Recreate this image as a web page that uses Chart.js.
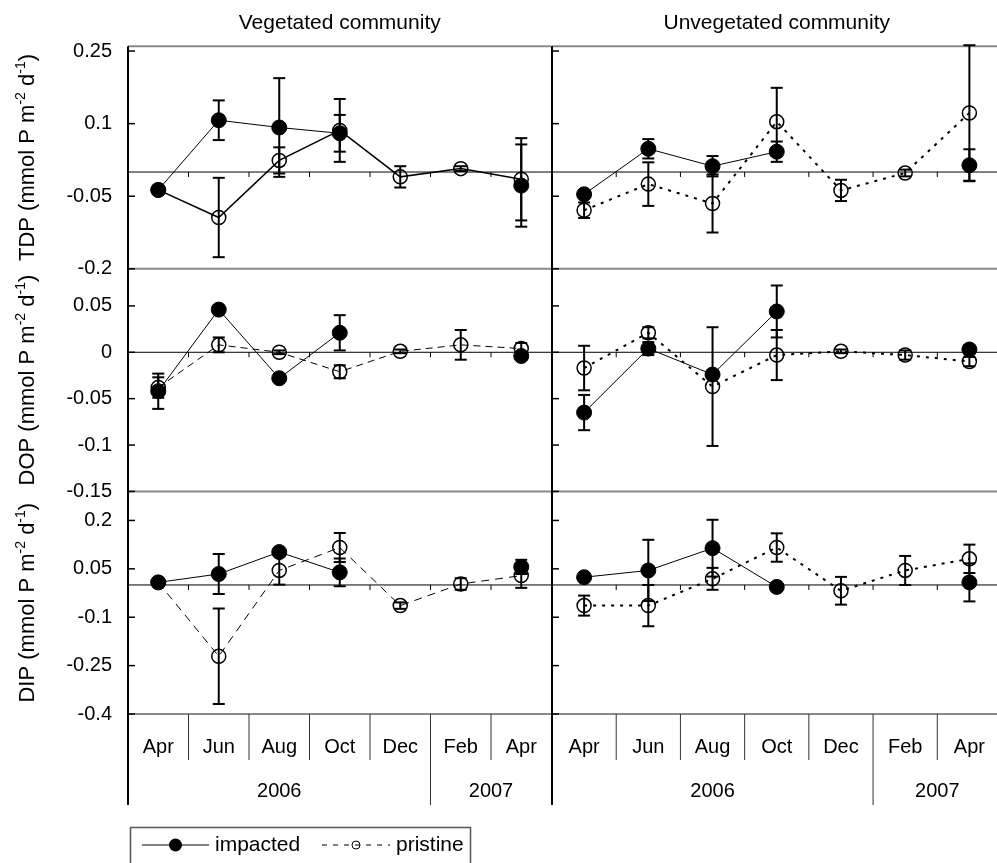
<!DOCTYPE html>
<html>
<head>
<meta charset="utf-8">
<title>TDP / DOP / DIP fluxes</title>
<script src="https://cdn.jsdelivr.net/npm/chart.js@4.4.1/dist/chart.umd.min.js"></script>
<style>
  html, body { margin:0; padding:0; background:#fff; overflow:hidden; width:997px; height:863px; }
  canvas { position:absolute; top:0; }
  #chVeg { left:0; }
  #chUnveg { left:540px; }
</style>
</head>
<body>
<canvas id="chVeg" width="560" height="863"></canvas>
<canvas id="chUnveg" width="470" height="863"></canvas>
<script>
// ---- categories
const months = ['Apr','Jun','Aug','Oct','Dec','Feb','Apr'];
const years = ['2006','2007'];
const yearSpans = [5, 2];
const seriesNames = ['impacted','pristine'];

// ---- axes (ranges + tick labels)
const tdpRange = [-0.2, 0.26];
const dopRange = [-0.15, 0.09];
const dipRange = [-0.4, 0.29];
const tdpTicks = [-0.2, -0.05, 0.1, 0.25];
const dopTicks = [-0.15, -0.1, -0.05, 0, 0.05];
const dipTicks = [-0.4, -0.25, -0.1, 0.05, 0.2];

// ---- vegetated community
const tdpVegImp    = [-0.037, 0.107, 0.092, 0.080, null, null, -0.028];
const tdpVegImpErr = [0.003, 0.041, 0.102, 0.038, 0, 0, 0.085];
const tdpVegPri    = [-0.037, -0.094, 0.024, 0.086, -0.010, 0.007, -0.015];
const tdpVegPriErr = [0.003, 0.082, 0.027, 0.065, 0.022, 0.005, 0.085];

const dopVegImp    = [-0.042, 0.046, -0.028, 0.021, null, null, -0.004];
const dopVegImpErr = [0.019, 0.003, 0.003, 0.019, 0, 0, 0.004];
const dopVegPri    = [-0.038, 0.008, 0.000, -0.021, 0.001, 0.008, 0.004];
const dopVegPriErr = [0.011, 0.008, 0.002, 0.007, 0.002, 0.016, 0.006];

const dipVegImp    = [0.008, 0.034, 0.102, 0.039, null, null, 0.056];
const dipVegImpErr = [0.004, 0.062, 0.010, 0.043, 0, 0, 0.022];
const dipVegPri    = [0.008, -0.221, 0.045, 0.116, -0.064, 0.003, 0.029];
const dipVegPriErr = [0.004, 0.148, 0.044, 0.045, 0.010, 0.018, 0.038];

// ---- unvegetated community
const tdpUnvImp    = [-0.046, 0.048, 0.012, 0.042, null, null, 0.014];
const tdpUnvImpErr = [0.006, 0.020, 0.021, 0.021, 0, 0, 0.033];
const tdpUnvPri    = [-0.079, -0.025, -0.065, 0.104, -0.038, -0.002, 0.122];
const tdpUnvPriErr = [0.016, 0.045, 0.060, 0.070, 0.022, 0.007, 0.140];

const dopUnvImp    = [-0.065, 0.004, -0.024, 0.044, null, null, 0.003];
const dopUnvImpErr = [0.019, 0.007, 0.004, 0.028, 0, 0, 0.004];
const dopUnvPri    = [-0.017, 0.021, -0.037, -0.003, 0.001, -0.003, -0.010];
const dopUnvPriErr = [0.024, 0.006, 0.064, 0.027, 0.002, 0.005, 0.005];

const dipUnvImp    = [0.024, 0.045, 0.114, -0.006, null, null, 0.008];
const dipUnvImpErr = [0.005, 0.095, 0.088, 0.006, 0, 0, 0.059];
const dipUnvPri    = [-0.064, -0.064, 0.019, 0.116, -0.018, 0.045, 0.081];
const dipUnvPriErr = [0.031, 0.064, 0.034, 0.044, 0.043, 0.045, 0.044];

// ---- util
const FONT = '"Liberation Sans", Arial, Helvetica, sans-serif';
Chart.defaults.font.family = FONT;
Chart.defaults.color = '#000';
Chart.defaults.animation = false;

const ROWS = ['tdp','dop','dip'];
const rowTitles = { tdp: 'TDP', dop: 'DOP', dip: 'DIP' };

function seg(ctx, x1, y1, x2, y2, color, w, dash){
  ctx.beginPath();
  ctx.setLineDash(dash || []);
  ctx.strokeStyle = color; ctx.lineWidth = w;
  ctx.moveTo(x1, y1); ctx.lineTo(x2, y2);
  ctx.stroke();
  ctx.setLineDash([]);
}

// y title with superscript units, rotated
function drawYTitle(ctx, name, cx, cy){
  const parts = [[name + ' (mmol P m', false], ['-2', true], [' d', false], ['-1', true], [')', false]];
  const big = `22px ${FONT}`, small = `14px ${FONT}`;
  ctx.save();
  ctx.translate(cx, cy);
  ctx.rotate(-Math.PI / 2);
  ctx.fillStyle = '#000';
  ctx.textAlign = 'left'; ctx.textBaseline = 'alphabetic';
  let w = 0;
  parts.forEach(([t, sup]) => { ctx.font = sup ? small : big; w += ctx.measureText(t).width; });
  let x = -w / 2;
  parts.forEach(([t, sup]) => {
    ctx.font = sup ? small : big;
    ctx.fillText(t, x, sup ? -1 : 8);
    x += ctx.measureText(t).width;
  });
  ctx.restore();
}

function drawLegend(ctx){
  ctx.save();
  ctx.strokeStyle = '#555'; ctx.lineWidth = 1.5;
  ctx.strokeRect(130.5, 827.5, 340, 60);
  const y = 845;
  seg(ctx, 142, y, 209, y, '#000', 1);
  ctx.beginPath(); ctx.arc(175.5, y, 6.5, 0, Math.PI * 2); ctx.fillStyle = '#000'; ctx.fill();
  ctx.font = `21px ${FONT}`; ctx.textBaseline = 'middle'; ctx.textAlign = 'left';
  ctx.fillText(seriesNames[0], 215, y);
  seg(ctx, 322, y, 390, y, '#000', 1, [5, 6]);
  ctx.beginPath(); ctx.arc(356, y, 4, 0, Math.PI * 2); ctx.strokeStyle = '#000'; ctx.lineWidth = 1; ctx.stroke();
  ctx.fillText(seriesNames[1], 396, y);
  ctx.restore();
}

// frame, zero lines, inward ticks, two-level category axis and error bars
const panelFrame = {
  id: 'panelFrame',
  beforeDatasetsDraw(chart, args, o){
    const { ctx, chartArea: a, scales } = chart;
    const xs = scales.x;
    const bound = i => xs.getPixelForValue(i - 0.5);
    ctx.save();

    ROWS.forEach(id => seg(ctx, a.left, scales[id].top, a.right, scales[id].top, '#8a8a8a', 2));
    seg(ctx, a.left, a.bottom, a.right, a.bottom, '#8a8a8a', 2);

    ROWS.forEach(id => {
      const s = scales[id];
      const y0 = s.getPixelForValue(0);
      seg(ctx, a.left, y0, a.right, y0, '#000', 1);
      for (let i = 1; i < months.length; i++) seg(ctx, bound(i), y0, bound(i), y0 + 5, '#000', 1);
      s.ticks.forEach(t => {
        const ty = s.getPixelForValue(t.value);
        seg(ctx, a.left, ty, a.left + 7, ty, '#000', 1.5);
      });
    });

    // separators under the plot: month cells, longer lines between years
    const yearEdges = [];
    yearSpans.reduce((acc, n) => { yearEdges.push(acc + n); return acc + n; }, 0);
    for (let i = 1; i < months.length; i++) {
      seg(ctx, bound(i), a.bottom, bound(i), yearEdges.includes(i) ? 805 : 760, '#333', 1);
    }
    ctx.font = `20px ${FONT}`; ctx.fillStyle = '#000';
    ctx.textAlign = 'center'; ctx.textBaseline = 'middle';
    let start = 0;
    years.forEach((yr, k) => {
      const end = start + yearSpans[k];
      ctx.fillText(yr, (bound(start) + bound(end)) / 2, 791);
      start = end;
    });

    seg(ctx, a.left, a.top, a.left, 805, '#000', 2);

    // error bars
    chart.data.datasets.forEach(ds => {
      const s = scales[ds.yAxisID];
      ds.data.forEach((v, i) => {
        const e = ds.errors[i];
        if (v == null || !e) return;
        const px = xs.getPixelForValue(i);
        const yt = s.getPixelForValue(v + e), yb = s.getPixelForValue(v - e);
        seg(ctx, px, yt, px, yb, '#000', 2);
        seg(ctx, px - 6, yt, px + 6, yt, '#000', 2);
        seg(ctx, px - 6, yb, px + 6, yb, '#000', 2);
      });
    });
    ctx.restore();
  },
  afterDraw(chart, args, o){
    const { ctx, scales } = chart;
    if (o.yTitles) ROWS.forEach(id => {
      const s = scales[id];
      drawYTitle(ctx, rowTitles[id], 26, (s.top + s.bottom) / 2);
    });
    if (o.legend) drawLegend(ctx);
  }
};

function series(label, data, errors, yAxisID, style){
  return Object.assign({
    label, data, errors, yAxisID, xAxisID: 'x',
    borderColor: '#000', borderWidth: 1, tension: 0, fill: false, spanGaps: false,
    pointBorderColor: '#000'
  }, style);
}
const impStyle = { pointRadius: 7.5, pointBackgroundColor: '#000', pointBorderWidth: 1 };
const priStyle = (w, dash) => ({ pointRadius: 7, pointBackgroundColor: 'rgba(0,0,0,0)', pointBorderWidth: 1.5, borderWidth: w, borderDash: dash });

function yScale(ticksArr, range, showLabels, width){
  return {
    type: 'linear', position: 'left', stack: 'rows', stackWeight: 1,
    min: range[0], max: range[1],
    grid: { display: false, drawTicks: false }, border: { display: false },
    ticks: { display: showLabels, padding: 16, color: '#000', font: { size: 20 }, autoSkip: false,
             callback: v => String(Math.round(v * 1000) / 1000) },
    afterBuildTicks: s => { s.ticks = ticksArr.map(value => ({ value })); },
    afterFit: s => { s.width = width; }
  };
}

function buildChart(canvasId, title, rows, left, padRight, frameOpts){
  const datasets = [];
  rows.forEach(r => {
    datasets.push(series(seriesNames[0], r.imp, r.impErr, r.id, impStyle));
    datasets.push(series(seriesNames[1], r.pri, r.priErr, r.id, priStyle(r.priWidth, r.priDash)));
  });
  return new Chart(document.getElementById(canvasId), {
    type: 'line',
    data: { labels: months, datasets },
    plugins: [panelFrame],
    options: {
      responsive: false, maintainAspectRatio: false, events: [],
      layout: { padding: { left: 0, right: padRight, top: 0, bottom: 0 } },
      scales: {
        x: {
          type: 'category', position: 'bottom', offset: true,
          grid: { display: false, drawTicks: false }, border: { display: false },
          ticks: { color: '#000', font: { size: 20 }, padding: 21, maxRotation: 0, autoSkip: false },
          afterFit: s => { s.height = 149; }
        },
        // declared bottom-up: stacked axes are placed top-down in reverse order
        dip: yScale(dipTicks, dipRange, left, left ? 128 : 12),
        dop: yScale(dopTicks, dopRange, left, left ? 128 : 12),
        tdp: yScale(tdpTicks, tdpRange, left, left ? 128 : 12)
      },
      plugins: {
        legend: { display: false },
        tooltip: { enabled: false },
        title: { display: true, text: title, fullSize: false, color: '#000',
                 font: { size: 21, weight: 'normal' }, padding: { top: 11, bottom: 10 } },
        panelFrame: frameOpts
      }
    }
  });
}

buildChart('chVeg', 'Vegetated community', [
  { id: 'tdp', imp: tdpVegImp, impErr: tdpVegImpErr, pri: tdpVegPri, priErr: tdpVegPriErr, priWidth: 1.5, priDash: [] },
  { id: 'dop', imp: dopVegImp, impErr: dopVegImpErr, pri: dopVegPri, priErr: dopVegPriErr, priWidth: 1, priDash: [7, 5] },
  { id: 'dip', imp: dipVegImp, impErr: dipVegImpErr, pri: dipVegPri, priErr: dipVegPriErr, priWidth: 1, priDash: [8, 6] }
], true, 8, { yTitles: true, legend: true });

buildChart('chUnveg', 'Unvegetated community', [
  { id: 'tdp', imp: tdpUnvImp, impErr: tdpUnvImpErr, pri: tdpUnvPri, priErr: tdpUnvPriErr, priWidth: 2, priDash: [3, 6] },
  { id: 'dop', imp: dopUnvImp, impErr: dopUnvImpErr, pri: dopUnvPri, priErr: dopUnvPriErr, priWidth: 2, priDash: [3, 6] },
  { id: 'dip', imp: dipUnvImp, impErr: dipUnvImpErr, pri: dipUnvPri, priErr: dipUnvPriErr, priWidth: 2, priDash: [3, 6] }
], false, 3, { yTitles: false, legend: false });
</script>
</body>
</html>
